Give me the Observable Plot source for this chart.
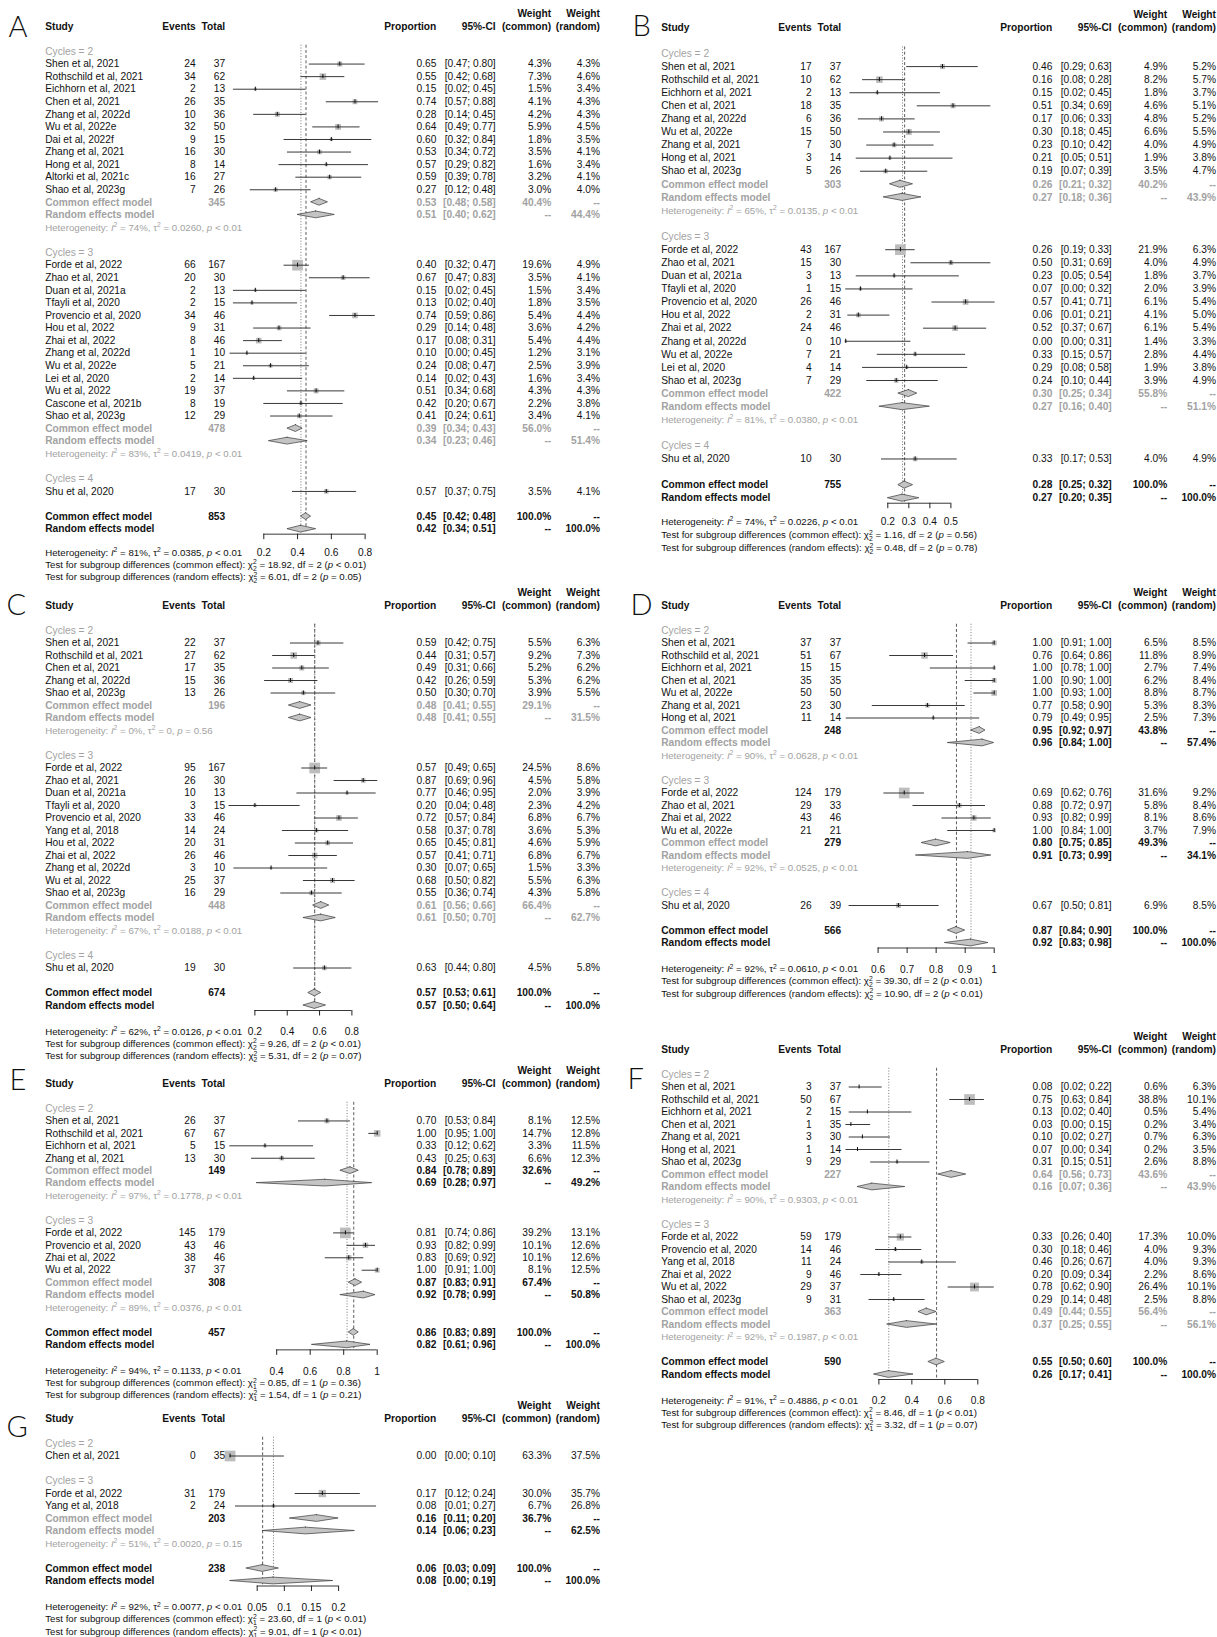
<!DOCTYPE html>
<html>
<head>
<meta charset="utf-8">
<script src="https://cdn.jsdelivr.net/npm/d3@7"></script>
<script src="https://cdn.jsdelivr.net/npm/@observablehq/plot@0.6"></script>
<style>
  html, body { margin: 0; padding: 0; background: #fff; }
  #page { position: relative; width: 1217px; height: 1637px; overflow: hidden; background: #fff; }
  .panel { position: absolute; }
  .panel svg { overflow: visible; }
</style>
</head>
<body>
<div id="page"></div>
<script>
// ---------------------------------------------------------------------------
// Data: one row per study = [study, cycles, events, total, proportion,
//        lower, upper, weight common %, weight random %]
// Subgroup summaries = [cycles, total, common est, lo, hi, random est, lo, hi,
//        weight common %, weight random %, I2 %, tau2, p]
// Overall = [total, common est, lo, hi, random est, lo, hi, I2 %, tau2, p]
// Tests = [[chi2, df, p] common, [chi2, df, p] random]
// ---------------------------------------------------------------------------

const studiesA = [
  ["Shen et al, 2021", 2, 24, 37, 0.65, 0.47, 0.80, 4.3, 4.3],
  ["Rothschild et al, 2021", 2, 34, 62, 0.55, 0.42, 0.68, 7.3, 4.6],
  ["Eichhorn et al, 2021", 2, 2, 13, 0.15, 0.02, 0.45, 1.5, 3.4],
  ["Chen et al, 2021", 2, 26, 35, 0.74, 0.57, 0.88, 4.1, 4.3],
  ["Zhang et al, 2022d", 2, 10, 36, 0.28, 0.14, 0.45, 4.2, 4.3],
  ["Wu et al, 2022e", 2, 32, 50, 0.64, 0.49, 0.77, 5.9, 4.5],
  ["Dai et al, 2022f", 2, 9, 15, 0.60, 0.32, 0.84, 1.8, 3.5],
  ["Zhang et al, 2021", 2, 16, 30, 0.53, 0.34, 0.72, 3.5, 4.1],
  ["Hong et al, 2021", 2, 8, 14, 0.57, 0.29, 0.82, 1.6, 3.4],
  ["Altorki et al, 2021c", 2, 16, 27, 0.59, 0.39, 0.78, 3.2, 4.1],
  ["Shao et al, 2023g", 2, 7, 26, 0.27, 0.12, 0.48, 3.0, 4.0],
  ["Forde et al, 2022", 3, 66, 167, 0.40, 0.32, 0.47, 19.6, 4.9],
  ["Zhao et al, 2021", 3, 20, 30, 0.67, 0.47, 0.83, 3.5, 4.1],
  ["Duan et al, 2021a", 3, 2, 13, 0.15, 0.02, 0.45, 1.5, 3.4],
  ["Tfayli et al, 2020", 3, 2, 15, 0.13, 0.02, 0.40, 1.8, 3.5],
  ["Provencio et al, 2020", 3, 34, 46, 0.74, 0.59, 0.86, 5.4, 4.4],
  ["Hou et al, 2022", 3, 9, 31, 0.29, 0.14, 0.48, 3.6, 4.2],
  ["Zhai et al, 2022", 3, 8, 46, 0.17, 0.08, 0.31, 5.4, 4.4],
  ["Zhang et al, 2022d", 3, 1, 10, 0.10, 0.00, 0.45, 1.2, 3.1],
  ["Wu et al, 2022e", 3, 5, 21, 0.24, 0.08, 0.47, 2.5, 3.9],
  ["Lei et al, 2020", 3, 2, 14, 0.14, 0.02, 0.43, 1.6, 3.4],
  ["Wu et al, 2022", 3, 19, 37, 0.51, 0.34, 0.68, 4.3, 4.3],
  ["Cascone et al, 2021b", 3, 8, 19, 0.42, 0.20, 0.67, 2.2, 3.8],
  ["Shao et al, 2023g", 3, 12, 29, 0.41, 0.24, 0.61, 3.4, 4.1],
  ["Shu et al, 2020", 4, 17, 30, 0.57, 0.37, 0.75, 3.5, 4.1]
];
const subgroupsA = [
  [2, 345, 0.53, 0.48, 0.58, 0.51, 0.40, 0.62, 40.4, 44.4, 74, "0.0260", "< 0.01"],
  [3, 478, 0.39, 0.34, 0.43, 0.34, 0.23, 0.46, 56.0, 51.4, 83, "0.0419", "< 0.01"]
];
const overallA = [853, 0.45, 0.42, 0.48, 0.42, 0.34, 0.51, 81, "0.0385", "< 0.01"];
const testsA = [["18.92", 2, "< 0.01"], ["6.01", 2, "= 0.05"]];
const ticksA = [0.2, 0.4, 0.6, 0.8];

const studiesB = [
  ["Shen et al, 2021", 2, 17, 37, 0.46, 0.29, 0.63, 4.9, 5.2],
  ["Rothschild et al, 2021", 2, 10, 62, 0.16, 0.08, 0.28, 8.2, 5.7],
  ["Eichhorn et al, 2021", 2, 2, 13, 0.15, 0.02, 0.45, 1.8, 3.7],
  ["Chen et al, 2021", 2, 18, 35, 0.51, 0.34, 0.69, 4.6, 5.1],
  ["Zhang et al, 2022d", 2, 6, 36, 0.17, 0.06, 0.33, 4.8, 5.2],
  ["Wu et al, 2022e", 2, 15, 50, 0.30, 0.18, 0.45, 6.6, 5.5],
  ["Zhang et al, 2021", 2, 7, 30, 0.23, 0.10, 0.42, 4.0, 4.9],
  ["Hong et al, 2021", 2, 3, 14, 0.21, 0.05, 0.51, 1.9, 3.8],
  ["Shao et al, 2023g", 2, 5, 26, 0.19, 0.07, 0.39, 3.5, 4.7],
  ["Forde et al, 2022", 3, 43, 167, 0.26, 0.19, 0.33, 21.9, 6.3],
  ["Zhao et al, 2021", 3, 15, 30, 0.50, 0.31, 0.69, 4.0, 4.9],
  ["Duan et al, 2021a", 3, 3, 13, 0.23, 0.05, 0.54, 1.8, 3.7],
  ["Tfayli et al, 2020", 3, 1, 15, 0.07, 0.00, 0.32, 2.0, 3.9],
  ["Provencio et al, 2020", 3, 26, 46, 0.57, 0.41, 0.71, 6.1, 5.4],
  ["Hou et al, 2022", 3, 2, 31, 0.06, 0.01, 0.21, 4.1, 5.0],
  ["Zhai et al, 2022", 3, 24, 46, 0.52, 0.37, 0.67, 6.1, 5.4],
  ["Zhang et al, 2022d", 3, 0, 10, 0.00, 0.00, 0.31, 1.4, 3.3],
  ["Wu et al, 2022e", 3, 7, 21, 0.33, 0.15, 0.57, 2.8, 4.4],
  ["Lei et al, 2020", 3, 4, 14, 0.29, 0.08, 0.58, 1.9, 3.8],
  ["Shao et al, 2023g", 3, 7, 29, 0.24, 0.10, 0.44, 3.9, 4.9],
  ["Shu et al, 2020", 4, 10, 30, 0.33, 0.17, 0.53, 4.0, 4.9]
];
const subgroupsB = [
  [2, 303, 0.26, 0.21, 0.32, 0.27, 0.18, 0.36, 40.2, 43.9, 65, "0.0135", "< 0.01"],
  [3, 422, 0.30, 0.25, 0.34, 0.27, 0.16, 0.40, 55.8, 51.1, 81, "0.0380", "< 0.01"]
];
const overallB = [755, 0.28, 0.25, 0.32, 0.27, 0.20, 0.35, 74, "0.0226", "< 0.01"];
const testsB = [["1.16", 2, "= 0.56"], ["0.48", 2, "= 0.78"]];
const ticksB = [0.2, 0.3, 0.4, 0.5];

const studiesC = [
  ["Shen et al, 2021", 2, 22, 37, 0.59, 0.42, 0.75, 5.5, 6.3],
  ["Rothschild et al, 2021", 2, 27, 62, 0.44, 0.31, 0.57, 9.2, 7.3],
  ["Chen et al, 2021", 2, 17, 35, 0.49, 0.31, 0.66, 5.2, 6.2],
  ["Zhang et al, 2022d", 2, 15, 36, 0.42, 0.26, 0.59, 5.3, 6.2],
  ["Shao et al, 2023g", 2, 13, 26, 0.50, 0.30, 0.70, 3.9, 5.5],
  ["Forde et al, 2022", 3, 95, 167, 0.57, 0.49, 0.65, 24.5, 8.6],
  ["Zhao et al, 2021", 3, 26, 30, 0.87, 0.69, 0.96, 4.5, 5.8],
  ["Duan et al, 2021a", 3, 10, 13, 0.77, 0.46, 0.95, 2.0, 3.9],
  ["Tfayli et al, 2020", 3, 3, 15, 0.20, 0.04, 0.48, 2.3, 4.2],
  ["Provencio et al, 2020", 3, 33, 46, 0.72, 0.57, 0.84, 6.8, 6.7],
  ["Yang et al, 2018", 3, 14, 24, 0.58, 0.37, 0.78, 3.6, 5.3],
  ["Hou et al, 2022", 3, 20, 31, 0.65, 0.45, 0.81, 4.6, 5.9],
  ["Zhai et al, 2022", 3, 26, 46, 0.57, 0.41, 0.71, 6.8, 6.7],
  ["Zhang et al, 2022d", 3, 3, 10, 0.30, 0.07, 0.65, 1.5, 3.3],
  ["Wu et al, 2022", 3, 25, 37, 0.68, 0.50, 0.82, 5.5, 6.3],
  ["Shao et al, 2023g", 3, 16, 29, 0.55, 0.36, 0.74, 4.3, 5.8],
  ["Shu et al, 2020", 4, 19, 30, 0.63, 0.44, 0.80, 4.5, 5.8]
];
const subgroupsC = [
  [2, 196, 0.48, 0.41, 0.55, 0.48, 0.41, 0.55, 29.1, 31.5, 0, "0", "= 0.56"],
  [3, 448, 0.61, 0.56, 0.66, 0.61, 0.50, 0.70, 66.4, 62.7, 67, "0.0188", "< 0.01"]
];
const overallC = [674, 0.57, 0.53, 0.61, 0.57, 0.50, 0.64, 62, "0.0126", "< 0.01"];
const testsC = [["9.26", 2, "< 0.01"], ["5.31", 2, "= 0.07"]];
const ticksC = [0.2, 0.4, 0.6, 0.8];

const studiesD = [
  ["Shen et al, 2021", 2, 37, 37, 1.00, 0.91, 1.00, 6.5, 8.5],
  ["Rothschild et al, 2021", 2, 51, 67, 0.76, 0.64, 0.86, 11.8, 8.9],
  ["Eichhorn et al, 2021", 2, 15, 15, 1.00, 0.78, 1.00, 2.7, 7.4],
  ["Chen et al, 2021", 2, 35, 35, 1.00, 0.90, 1.00, 6.2, 8.4],
  ["Wu et al, 2022e", 2, 50, 50, 1.00, 0.93, 1.00, 8.8, 8.7],
  ["Zhang et al, 2021", 2, 23, 30, 0.77, 0.58, 0.90, 5.3, 8.3],
  ["Hong et al, 2021", 2, 11, 14, 0.79, 0.49, 0.95, 2.5, 7.3],
  ["Forde et al, 2022", 3, 124, 179, 0.69, 0.62, 0.76, 31.6, 9.2],
  ["Zhao et al, 2021", 3, 29, 33, 0.88, 0.72, 0.97, 5.8, 8.4],
  ["Zhai et al, 2022", 3, 43, 46, 0.93, 0.82, 0.99, 8.1, 8.6],
  ["Wu et al, 2022e", 3, 21, 21, 1.00, 0.84, 1.00, 3.7, 7.9],
  ["Shu et al, 2020", 4, 26, 39, 0.67, 0.50, 0.81, 6.9, 8.5]
];
const subgroupsD = [
  [2, 248, 0.95, 0.92, 0.97, 0.96, 0.84, 1.00, 43.8, 57.4, 90, "0.0628", "< 0.01"],
  [3, 279, 0.80, 0.75, 0.85, 0.91, 0.73, 0.99, 49.3, 34.1, 92, "0.0525", "< 0.01"]
];
const overallD = [566, 0.87, 0.84, 0.90, 0.92, 0.83, 0.98, 92, "0.0610", "< 0.01"];
const testsD = [["39.30", 2, "< 0.01"], ["10.90", 2, "< 0.01"]];
const ticksD = [0.6, 0.7, 0.8, 0.9, 1];

const studiesE = [
  ["Shen et al, 2021", 2, 26, 37, 0.70, 0.53, 0.84, 8.1, 12.5],
  ["Rothschild et al, 2021", 2, 67, 67, 1.00, 0.95, 1.00, 14.7, 12.8],
  ["Eichhorn et al, 2021", 2, 5, 15, 0.33, 0.12, 0.62, 3.3, 11.5],
  ["Zhang et al, 2021", 2, 13, 30, 0.43, 0.25, 0.63, 6.6, 12.3],
  ["Forde et al, 2022", 3, 145, 179, 0.81, 0.74, 0.86, 39.2, 13.1],
  ["Provencio et al, 2020", 3, 43, 46, 0.93, 0.82, 0.99, 10.1, 12.6],
  ["Zhai et al, 2022", 3, 38, 46, 0.83, 0.69, 0.92, 10.1, 12.6],
  ["Wu et al, 2022", 3, 37, 37, 1.00, 0.91, 1.00, 8.1, 12.5]
];
const subgroupsE = [
  [2, 149, 0.84, 0.78, 0.89, 0.69, 0.28, 0.97, 32.6, 49.2, 97, "0.1778", "< 0.01"],
  [3, 308, 0.87, 0.83, 0.91, 0.92, 0.78, 0.99, 67.4, 50.8, 89, "0.0376", "< 0.01"]
];
const overallE = [457, 0.86, 0.83, 0.89, 0.82, 0.61, 0.96, 94, "0.1133", "< 0.01"];
const testsE = [["0.85", 1, "= 0.36"], ["1.54", 1, "= 0.21"]];
const ticksE = [0.4, 0.6, 0.8, 1];

const studiesF = [
  ["Shen et al, 2021", 2, 3, 37, 0.08, 0.02, 0.22, 0.6, 6.3],
  ["Rothschild et al, 2021", 2, 50, 67, 0.75, 0.63, 0.84, 38.8, 10.1],
  ["Eichhorn et al, 2021", 2, 2, 15, 0.13, 0.02, 0.40, 0.5, 5.4],
  ["Chen et al, 2021", 2, 1, 35, 0.03, 0.00, 0.15, 0.2, 3.4],
  ["Zhang et al, 2021", 2, 3, 30, 0.10, 0.02, 0.27, 0.7, 6.3],
  ["Hong et al, 2021", 2, 1, 14, 0.07, 0.00, 0.34, 0.2, 3.5],
  ["Shao et al, 2023g", 2, 9, 29, 0.31, 0.15, 0.51, 2.6, 8.8],
  ["Forde et al, 2022", 3, 59, 179, 0.33, 0.26, 0.40, 17.3, 10.0],
  ["Provencio et al, 2020", 3, 14, 46, 0.30, 0.18, 0.46, 4.0, 9.3],
  ["Yang et al, 2018", 3, 11, 24, 0.46, 0.26, 0.67, 4.0, 9.3],
  ["Zhai et al, 2022", 3, 9, 46, 0.20, 0.09, 0.34, 2.2, 8.6],
  ["Wu et al, 2022", 3, 29, 37, 0.78, 0.62, 0.90, 26.4, 10.1],
  ["Shao et al, 2023g", 3, 9, 31, 0.29, 0.14, 0.48, 2.5, 8.8]
];
const subgroupsF = [
  [2, 227, 0.64, 0.56, 0.73, 0.16, 0.07, 0.36, 43.6, 43.9, 90, "0.9303", "< 0.01"],
  [3, 363, 0.49, 0.44, 0.55, 0.37, 0.25, 0.55, 56.4, 56.1, 92, "0.1987", "< 0.01"]
];
const overallF = [590, 0.55, 0.50, 0.60, 0.26, 0.17, 0.41, 91, "0.4886", "< 0.01"];
const testsF = [["8.46", 1, "< 0.01"], ["3.32", 1, "= 0.07"]];
const ticksF = [0.2, 0.4, 0.6, 0.8];

const studiesG = [
  ["Chen et al, 2021", 2, 0, 35, 0.00, 0.00, 0.10, 63.3, 37.5],
  ["Forde et al, 2022", 3, 31, 179, 0.17, 0.12, 0.24, 30.0, 35.7],
  ["Yang et al, 2018", 3, 2, 24, 0.08, 0.01, 0.27, 6.7, 26.8]
];
const subgroupsG = [
  [3, 203, 0.16, 0.11, 0.20, 0.14, 0.06, 0.23, 36.7, 62.5, 51, "0.0020", "= 0.15"]
];
const overallG = [238, 0.06, 0.03, 0.09, 0.08, 0.00, 0.19, 92, "0.0077", "< 0.01"];
const testsG = [["23.60", 1, "< 0.01"], ["9.01", 1, "< 0.01"]];
const ticksG = [0.05, 0.1, 0.15, 0.2];

// ---------------------------------------------------------------------------
// Layout of the seven forest plots on the page
// ---------------------------------------------------------------------------
const PANELS = [
  {letter: "A", studies: studiesA, subgroups: subgroupsA, overall: overallA, tests: testsA, ticks: ticksA,
   left: 0, width: 610, row0: 51, step: 12.57, hdr: [-37.7, -25], gap: 23.5, fstep: 12.2,
   xRange: [263.3, 364.6], letterAt: [8, 16], blackSummary: false},
  {letter: "B", studies: studiesB, subgroups: subgroupsB, overall: overallB, tests: testsB, ticks: ticksB,
   left: 616, width: 601, row0: 52.7, step: 13.08, hdr: [-38.7, -26], gap: 23.6, fstep: 13.1,
   xRange: [271.3, 334.4], letterAt: [16, 15], blackSummary: false},
  {letter: "C", studies: studiesC, subgroups: subgroupsC, overall: overallC, tests: testsC, ticks: ticksC,
   left: 0, width: 610, row0: 629.7, step: 12.5, hdr: [-38, -25], gap: 26, fstep: 12.2,
   xRange: [254.4, 351.4], letterAt: [6, 594], blackSummary: false},
  {letter: "D", studies: studiesD, subgroups: subgroupsD, overall: overallD, tests: testsD, ticks: ticksD,
   left: 616, width: 601, row0: 629.7, step: 12.5, hdr: [-38, -25], gap: 26, fstep: 12.3,
   xRange: [261.6, 377.7], letterAt: [14, 594], blackSummary: true},
  {letter: "E", studies: studiesE, subgroups: subgroupsE, overall: overallE, tests: testsE, ticks: ticksE,
   left: 0, width: 610, row0: 1108.3, step: 12.44, hdr: [-37.3, -25], gap: 26.5, fstep: 11.8,
   xRange: [276.2, 376.7], letterAt: [9, 1069], blackSummary: true},
  {letter: "F", studies: studiesF, subgroups: subgroupsF, overall: overallF, tests: testsF, ticks: ticksF,
   left: 616, width: 601, row0: 1074.3, step: 12.5, hdr: [-37.6, -24.3], gap: 26, fstep: 12.3,
   xRange: [262.4, 361.3], letterAt: [11, 1068], blackSummary: false},
  {letter: "G", studies: studiesG, subgroups: subgroupsG, overall: overallG, tests: testsG, ticks: ticksG,
   left: 0, width: 610, row0: 1443.3, step: 12.5, hdr: [-37.3, -24.3], gap: 26, fstep: 12.3,
   xRange: [256.7, 338.1], letterAt: [6, 1416], blackSummary: true}
];

const FONT = "'Liberation Sans', Arial, Helvetica, sans-serif";
const INK = "#111";
const GREY = "#a2a2a2";
const COLS = {study: 44.7, events: 195.2, total: 224.7, prop: 435.8, ci: 495.2, wc: 550.7, wr: 599.5};
const DIAMOND_H = 0.27;      // diamond half-height, in rows
const MAX_SQUARE = 10.7;     // side of the square for the heaviest study, px
const MATH_SIZE = 9.7;       // font size of the statistics lines, px

const f2 = d3.format(".2f");
const pct = v => d3.format(".1f")(v) + "%";
const ciText = (lo, hi) => `[${f2(lo)}; ${f2(hi)}]`;
const hetText = (i2, tau2, p) => `Heterogeneity: *I*^2 = ${i2}%, τ^2 = ${tau2}, *p* ${p}`;
const testText = (kind, [chi, df, p]) =>
  `Test for subgroup differences (${kind}): χ^2_${df} = ${chi}, df = ${df} (*p* ${p})`;

// Turn the light markup (*italic*, ^sup, ^sup_sub) into SVG tspans.
function richify(svg) {
  const NS = "http://www.w3.org/2000/svg";
  svg.querySelectorAll("text").forEach(t => {
    const s = t.textContent;
    if (!/[\^*]/.test(s)) return;
    t.textContent = "";
    t.setAttribute("font-size", MATH_SIZE + "px");
    let pending = 0;
    const add = (txt, attrs = {}) => {
      if (!txt) return;
      const ts = document.createElementNS(NS, "tspan");
      for (const k in attrs) ts.setAttribute(k, attrs[k]);
      ts.textContent = txt;
      t.appendChild(ts);
    };
    const plain = (txt, extra = {}) => {
      if (!txt) return;
      const a = {...extra};
      if (pending) { a.dy = pending; pending = 0; }
      add(txt, a);
    };
    const re = /\*([^*]+)\*|\^(\w)_(\w)|\^(\w)/g;
    let last = 0, m;
    while ((m = re.exec(s))) {
      plain(s.slice(last, m.index));
      if (m[1]) {
        plain(m[1], {"font-style": "italic"});
      } else if (m[2]) {
        add(m[2], {dy: -3.5 + pending, "font-size": "6.8px"});
        add(m[3], {dx: -3.8, dy: 6.4, "font-size": "6.8px"});
        pending = -2.9;
      } else {
        add(m[4], {dy: -3.5 + pending, "font-size": "6.8px"});
        pending = 3.5;
      }
      last = re.lastIndex;
    }
    plain(s.slice(last));
  });
}

function forest(cfg) {
  const {studies, subgroups, overall, tests, ticks, step} = cfg;
  const top = cfg.row0 - 51;
  const y0 = cfg.row0 - top;

  // Row layout: subgroup label, studies, pooled rows + heterogeneity, blank line
  const rows = [];
  let r = 0;
  for (const c of [...new Set(studies.map(d => d[1]))]) {
    rows.push({kind: "label", row: r++, cycles: c});
    for (const s of studies.filter(d => d[1] === c)) {
      rows.push({kind: "study", row: r++, name: s[0], events: s[2], total: s[3],
                 est: s[4], lo: s[5], hi: s[6], wc: s[7], wr: s[8]});
    }
    const g = subgroups.find(d => d[0] === c);
    if (g) {
      rows.push({kind: "subCommon", row: r++, total: g[1], est: g[2], lo: g[3], hi: g[4], wc: g[8]});
      rows.push({kind: "subRandom", row: r++, est: g[5], lo: g[6], hi: g[7], wr: g[9]});
      rows.push({kind: "subHet", row: r++, i2: g[10], tau2: g[11], p: g[12]});
    }
    r++;
  }
  rows.push({kind: "common", row: r++, total: overall[0], est: overall[1], lo: overall[2], hi: overall[3]});
  rows.push({kind: "random", row: r, est: overall[4], lo: overall[5], hi: overall[6]});
  const last = r;

  const axisRow = last + 5 / step;
  const axisPx = y0 + axisRow * step;
  const footRow = k => last + (cfg.gap + k * cfg.fstep) / step;
  const height = Math.ceil(y0 + footRow(2) * step + 10);

  // Text cells for the table columns
  const cells = [];
  const put = (row, col, text, o = {}) =>
    cells.push({row, col, text: String(text), bold: !!o.bold, grey: !!o.grey});
  const h1 = cfg.hdr[0] / step, h2 = cfg.hdr[1] / step;
  put(h1, "wc", "Weight", {bold: true});
  put(h1, "wr", "Weight", {bold: true});
  put(h2, "study", "Study", {bold: true});
  put(h2, "events", "Events", {bold: true});
  put(h2, "total", "Total", {bold: true});
  put(h2, "prop", "Proportion", {bold: true});
  put(h2, "ci", "95%-CI", {bold: true});
  put(h2, "wc", "(common)", {bold: true});
  put(h2, "wr", "(random)", {bold: true});

  const sv = {bold: true, grey: !cfg.blackSummary};
  for (const d of rows) {
    switch (d.kind) {
      case "label":
        put(d.row, "study", `Cycles = ${d.cycles}`, {grey: true});
        break;
      case "study":
        put(d.row, "study", d.name);
        put(d.row, "events", d.events);
        put(d.row, "total", d.total);
        put(d.row, "prop", f2(d.est));
        put(d.row, "ci", ciText(d.lo, d.hi));
        put(d.row, "wc", pct(d.wc));
        put(d.row, "wr", pct(d.wr));
        break;
      case "subCommon":
        put(d.row, "study", "Common effect model", {bold: true, grey: true});
        put(d.row, "total", d.total, sv);
        put(d.row, "prop", f2(d.est), sv);
        put(d.row, "ci", ciText(d.lo, d.hi), sv);
        put(d.row, "wc", pct(d.wc), sv);
        put(d.row, "wr", "--", sv);
        break;
      case "subRandom":
        put(d.row, "study", "Random effects model", {bold: true, grey: true});
        put(d.row, "prop", f2(d.est), sv);
        put(d.row, "ci", ciText(d.lo, d.hi), sv);
        put(d.row, "wc", "--", sv);
        put(d.row, "wr", pct(d.wr), sv);
        break;
      case "subHet":
        put(d.row, "study", hetText(d.i2, d.tau2, d.p), {grey: true});
        break;
      case "common":
        put(d.row, "study", "Common effect model", {bold: true});
        put(d.row, "total", d.total, {bold: true});
        put(d.row, "prop", f2(d.est), {bold: true});
        put(d.row, "ci", ciText(d.lo, d.hi), {bold: true});
        put(d.row, "wc", pct(100), {bold: true});
        put(d.row, "wr", "--", {bold: true});
        break;
      case "random":
        put(d.row, "study", "Random effects model", {bold: true});
        put(d.row, "prop", f2(d.est), {bold: true});
        put(d.row, "ci", ciText(d.lo, d.hi), {bold: true});
        put(d.row, "wc", "--", {bold: true});
        put(d.row, "wr", pct(100), {bold: true});
        break;
    }
  }
  put(footRow(0), "study", hetText(overall[7], overall[8], overall[9]));
  put(footRow(1), "study", testText("common effect", tests[0]));
  put(footRow(2), "study", testText("random effects", tests[1]));

  const textMarks = d3.groups(cells, d => `${d.col}|${d.bold}|${d.grey}`).map(([, arr]) => {
    const {col, bold, grey} = arr[0];
    return Plot.text(arr, {
      y: "row", text: "text", frameAnchor: "left", dx: COLS[col],
      textAnchor: col === "study" ? "start" : "end", lineAnchor: "middle",
      fill: grey ? GREY : INK, fontWeight: bold ? "bold" : "normal"
    });
  });

  const studyRows = rows.filter(d => d.kind === "study");
  const pooled = rows.filter(d => ["subCommon", "subRandom", "common", "random"].includes(d.kind));
  const diamonds = pooled.flatMap((d, i) => [
    {id: i, y: d.row - DIAMOND_H, x1: d.est, x2: d.est},
    {id: i, y: d.row, x1: d.lo, x2: d.hi},
    {id: i, y: d.row + DIAMOND_H, x1: d.est, x2: d.est}
  ]);

  const svg = Plot.plot({
    width: cfg.width,
    height,
    marginTop: 0, marginLeft: 0, marginRight: 0,
    marginBottom: height - axisPx,
    x: {domain: [ticks[0], ticks[ticks.length - 1]], range: cfg.xRange},
    y: {domain: [0, last], range: [y0, y0 + last * step], axis: null},
    r: {type: "sqrt", domain: [0, d3.max(studies, d => d[7])], range: [0, MAX_SQUARE / Math.sqrt(Math.PI)]},
    style: {fontFamily: FONT, fontSize: "10.2px", background: "transparent", color: INK, overflow: "visible"},
    marks: [
      // reference lines: common effect (dashed) and random effects (dotted)
      Plot.ruleX([overall[1]], {x: d => d, y1: -0.5, y2: last + 0.3, stroke: "#333", strokeWidth: 0.8, strokeDasharray: "3,2.2"}),
      Plot.ruleX([overall[4]], {x: d => d, y1: -0.5, y2: last + 0.3, stroke: "#555", strokeWidth: 0.8, strokeDasharray: "1,1.8"}),
      // pooled estimates
      Plot.areaX(diamonds, {y: "y", x1: "x1", x2: "x2", z: "id", fill: "#c4c4c4", stroke: "#3a3a3a", strokeWidth: 0.7}),
      // study squares, confidence intervals, point estimates
      Plot.dot(studyRows, {x: "est", y: "row", r: "wc", symbol: "square", fill: "#bdbdbd", stroke: "none"}),
      Plot.ruleY(studyRows, {y: "row", x1: "lo", x2: "hi", stroke: "#222", strokeWidth: 0.9}),
      Plot.ruleX(studyRows, {x: "est", y1: d => d.row - 0.16, y2: d => d.row + 0.16, stroke: "#111", strokeWidth: 1}),
      // x axis
      Plot.ruleY([axisRow], {y: d => d, x1: ticks[0], x2: ticks[ticks.length - 1], stroke: "#222", strokeWidth: 0.9}),
      Plot.axisX({ticks, anchor: "bottom", tickSize: 5.5, tickPadding: cfg.gap - 14.2,
                  tickFormat: d => String(d), label: null, stroke: "#222"}),
      ...textMarks,
      // panel letter
      Plot.text([cfg.letter], {text: d => d, frameAnchor: "top-left", dx: cfg.letterAt[0], dy: cfg.letterAt[1] - top,
                               lineAnchor: "top", textAnchor: "start", fontSize: 29, fontWeight: 300,
                               fontFamily: "Lato, 'Open Sans', sans-serif", fill: "#111"})
    ]
  });
  richify(svg);

  const div = document.createElement("div");
  div.className = "panel";
  div.style.left = cfg.left + "px";
  div.style.top = top + "px";
  div.appendChild(svg);
  document.getElementById("page").appendChild(div);
}

PANELS.forEach(forest);
</script>
</body>
</html>
